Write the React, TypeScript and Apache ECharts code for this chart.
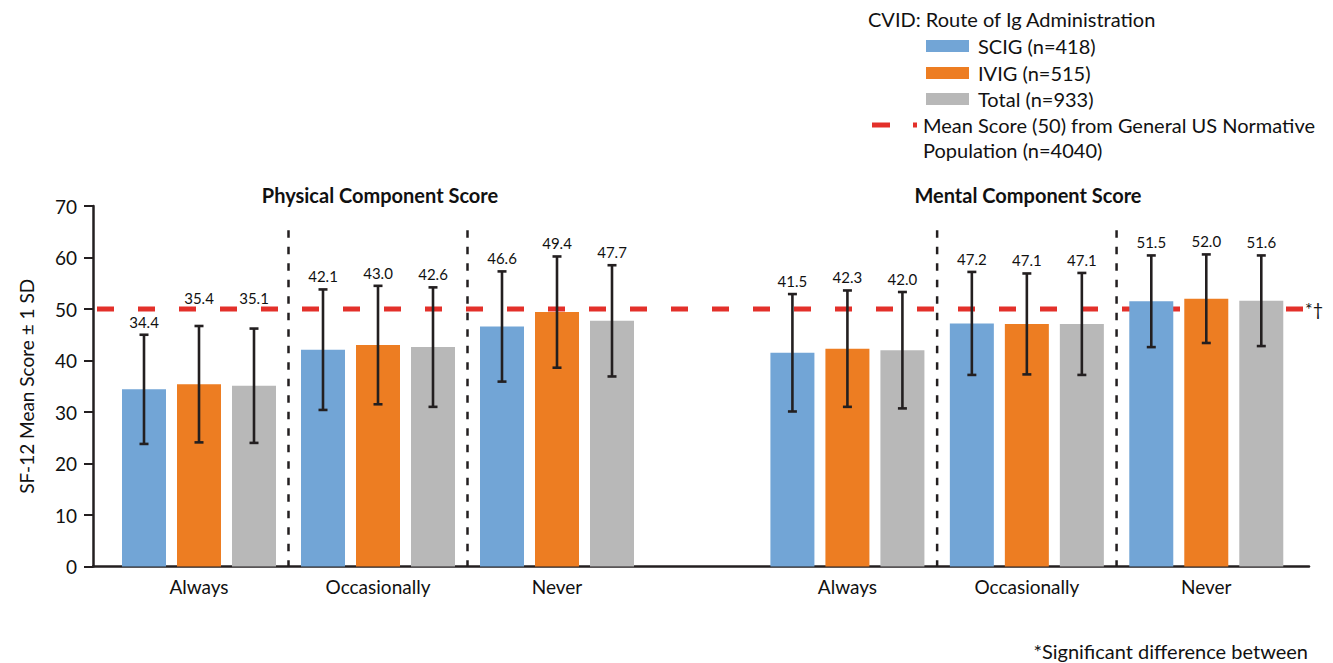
import React, { useEffect, useRef } from "react";
import * as echarts from "echarts";

// Response frequency categories on each panel
const categories = ["Always", "Occasionally", "Never"];

// Physical Component Score (mean, SD)
const pcsScig = [34.4, 42.1, 46.6];
const pcsIvig = [35.4, 43.0, 49.4];
const pcsTotal = [35.1, 42.6, 47.7];
const pcsScigSd = [10.6, 11.7, 10.7];
const pcsIvigSd = [11.3, 11.5, 10.8];
const pcsTotalSd = [11.1, 11.6, 10.8];

// Mental Component Score (mean, SD)
const mcsScig = [41.5, 47.2, 51.5];
const mcsIvig = [42.3, 47.1, 52.0];
const mcsTotal = [42.0, 47.1, 51.6];
const mcsScigSd = [11.4, 10.0, 8.9];
const mcsIvigSd = [11.3, 9.8, 8.6];
const mcsTotalSd = [11.3, 9.9, 8.8];

const seriesNames = ["SCIG (n=418)", "IVIG (n=515)", "Total (n=933)"];
const normativeMean = 50;
const yTicks = [0, 10, 20, 30, 40, 50, 60, 70];

const COLORS = ["#72A5D6", "#ED7D22", "#B8B8B8"];
const RED = "#E3302A";
const INK = "#231F20";
const FONT = "Lato, 'Noto Sans', sans-serif";
const BAR_W = 44;
const BAR_GAP = 11;
const SEP_TOP = 65.3;

export default function App() {
  const ref = useRef<HTMLDivElement>(null);

  useEffect(() => {
    document.body.style.margin = "0";
    const chart = echarts.init(ref.current!, null, { renderer: "svg" });

    const grids = [
      { left: 93, right: 24, top: 206, bottom: 96.5 },
      { left: 109.5, width: 537, top: 206, bottom: 96.5 },
      { left: 757.7, width: 538.3, top: 206, bottom: 96.5 },
    ];

    const yAxis: any[] = [0, 1, 2].map((i) => ({
      type: "value",
      gridIndex: i,
      min: yTicks[0],
      max: yTicks[yTicks.length - 1],
      interval: 10,
      show: i === 0,
      splitLine: { show: false },
      axisLine: { show: true, lineStyle: { color: INK, width: 2.5 } },
      axisTick: { show: true, inside: false, length: 9, lineStyle: { color: INK, width: 2 } },
      axisLabel: { color: "#111", fontSize: 19, fontFamily: FONT, margin: 16 },
      name: i === 0 ? "SF-12 Mean Score ± 1 SD" : "",
      nameLocation: "middle",
      nameGap: 57,
      nameRotate: 90,
      nameTextStyle: { color: "#111", fontSize: 19, fontFamily: FONT },
    }));

    const xAxis: any[] = [
      {
        type: "value",
        gridIndex: 0,
        min: 0,
        max: 1,
        axisLine: { show: true, lineStyle: { color: INK, width: 2.5 } },
        axisTick: { show: false },
        axisLabel: { show: false },
        splitLine: { show: false },
      },
      ...[1, 2].map((i) => ({
        type: "category",
        gridIndex: i,
        data: categories,
        axisLine: { show: false },
        axisTick: { show: false },
        axisLabel: { color: "#111", fontSize: 19, fontFamily: FONT, margin: 10 },
      })),
    ];

    const panels = [
      { grid: 1, means: [pcsScig, pcsIvig, pcsTotal], sds: [pcsScigSd, pcsIvigSd, pcsTotalSd] },
      { grid: 2, means: [mcsScig, mcsIvig, mcsTotal], sds: [mcsScigSd, mcsIvigSd, mcsTotalSd] },
    ];

    const series: any[] = [];

    // Normative reference line at 50
    series.push({
      type: "custom",
      xAxisIndex: 0,
      yAxisIndex: 0,
      z: 1,
      silent: true,
      clip: false,
      data: [[0, normativeMean]],
      renderItem: (params: any, api: any) => {
        const a = api.coord([0, api.value(1)]);
        const b = api.coord([1, api.value(1)]);
        return {
          type: "group",
          children: [
            {
              type: "line",
              shape: { x1: a[0], y1: a[1], x2: b[0] - 4, y2: b[1] },
              style: { stroke: RED, lineWidth: 5, lineDash: [17, 24], lineDashOffset: 37 },
            },
            {
              type: "text",
              x: b[0] - 4,
              y: b[1],
              style: { text: "*†", fill: "#111", font: `18px ${FONT}`, align: "left", verticalAlign: "middle" },
            },
          ],
        };
      },
    });

    panels.forEach((p) => {
      p.means.forEach((vals, k) => {
        series.push({
          name: seriesNames[k],
          type: "bar",
          xAxisIndex: p.grid,
          yAxisIndex: p.grid,
          data: vals,
          barWidth: BAR_W,
          barGap: `${(BAR_GAP / BAR_W) * 100}%`,
          itemStyle: { color: COLORS[k] },
          z: 2,
        });
      });

      // Error bars (mean ± 1 SD) with value labels
      const errData: number[][] = [];
      p.means.forEach((vals, k) => {
        vals.forEach((m, c) => errData.push([c, m, p.sds[k][c], k]));
      });
      series.push({
        type: "custom",
        xAxisIndex: p.grid,
        yAxisIndex: p.grid,
        z: 4,
        silent: true,
        clip: false,
        data: errData,
        encode: { x: 0, y: 1 },
        renderItem: (params: any, api: any) => {
          const c = api.value(0);
          const m = api.value(1);
          const sd = api.value(2);
          const k = api.value(3);
          const dx = (k - 1) * (BAR_W + BAR_GAP);
          const top = api.coord([c, m + sd]);
          const bot = api.coord([c, m - sd]);
          const refY = api.coord([c, normativeMean])[1];
          const x = top[0] + dx;
          let ly = top[1] - 13;
          if (Math.abs(ly - refY) < 9) ly = refY - 11;
          const st = { stroke: INK, lineWidth: 2.6 };
          return {
            type: "group",
            children: [
              { type: "line", shape: { x1: x, y1: top[1], x2: x, y2: bot[1] }, style: st },
              { type: "line", shape: { x1: x - 4.5, y1: top[1], x2: x + 4.5, y2: top[1] }, style: st },
              { type: "line", shape: { x1: x - 4.5, y1: bot[1], x2: x + 4.5, y2: bot[1] }, style: st },
              {
                type: "text",
                x,
                y: ly,
                style: {
                  text: m.toFixed(1),
                  fill: "#111",
                  font: `15px ${FONT}`,
                  align: "center",
                  verticalAlign: "middle",
                },
              },
            ],
          };
        },
      });

      // Dashed separators between response categories
      series.push({
        type: "custom",
        xAxisIndex: p.grid,
        yAxisIndex: p.grid,
        z: 3,
        silent: true,
        clip: false,
        data: [[0, 0], [1, 0]],
        encode: { x: 0, y: 1 },
        renderItem: (params: any, api: any) => {
          const c = api.value(0);
          const a = api.coord([c, 0]);
          const b = api.coord([c + 1, 0]);
          const t = api.coord([c, SEP_TOP]);
          const x = (a[0] + b[0]) / 2;
          return {
            type: "line",
            shape: { x1: x, y1: t[1], x2: x, y2: a[1] },
            style: { stroke: INK, lineWidth: 2.5, lineDash: [7.5, 9] },
          };
        },
      });
    });

    const legendRows = [
      { label: seriesNames[0], color: COLORS[0], y: 46 },
      { label: seriesNames[1], color: COLORS[1], y: 73 },
      { label: seriesNames[2], color: COLORS[2], y: 99 },
    ];

    const graphic: any[] = [
      {
        type: "text",
        x: 380,
        y: 195,
        style: { text: "Physical Component Score", font: `bold 20px ${FONT}`, fill: "#111", align: "center", verticalAlign: "middle" },
      },
      {
        type: "text",
        x: 1028,
        y: 195,
        style: { text: "Mental Component Score", font: `bold 20px ${FONT}`, fill: "#111", align: "center", verticalAlign: "middle" },
      },
      {
        type: "text",
        x: 868,
        y: 19,
        style: { text: "CVID: Route of Ig Administration", font: `20px ${FONT}`, fill: "#111", align: "left", verticalAlign: "middle" },
      },
      ...legendRows.flatMap((r) => [
        { type: "rect", shape: { x: 926, y: r.y - 6, width: 43, height: 12 }, style: { fill: r.color } },
        {
          type: "text",
          x: 978,
          y: r.y,
          style: { text: r.label, font: `20px ${FONT}`, fill: "#111", align: "left", verticalAlign: "middle" },
        },
      ]),
      { type: "rect", shape: { x: 872, y: 122.5, width: 18, height: 5 }, style: { fill: RED } },
      { type: "rect", shape: { x: 913, y: 122.5, width: 4, height: 5 }, style: { fill: RED } },
      {
        type: "text",
        x: 923,
        y: 125,
        style: {
          text: "Mean Score (50) from General US Normative",
          font: `20px ${FONT}`,
          fill: "#111",
          align: "left",
          verticalAlign: "middle",
        },
      },
      {
        type: "text",
        x: 923,
        y: 150,
        style: { text: "Population (n=4040)", font: `20px ${FONT}`, fill: "#111", align: "left", verticalAlign: "middle" },
      },
      {
        type: "text",
        x: 1308,
        y: 651,
        style: {
          text: "*Significant difference between",
          font: `20px ${FONT}`,
          fill: "#111",
          align: "right",
          verticalAlign: "middle",
        },
      },
    ];

    chart.setOption({
      animation: false,
      backgroundColor: "#fff",
      textStyle: { fontFamily: FONT },
      grid: grids,
      xAxis,
      yAxis,
      series,
      graphic,
    });

    return () => chart.dispose();
  }, []);

  return <div ref={ref} style={{ width: 1333, height: 663 }} />;
}
